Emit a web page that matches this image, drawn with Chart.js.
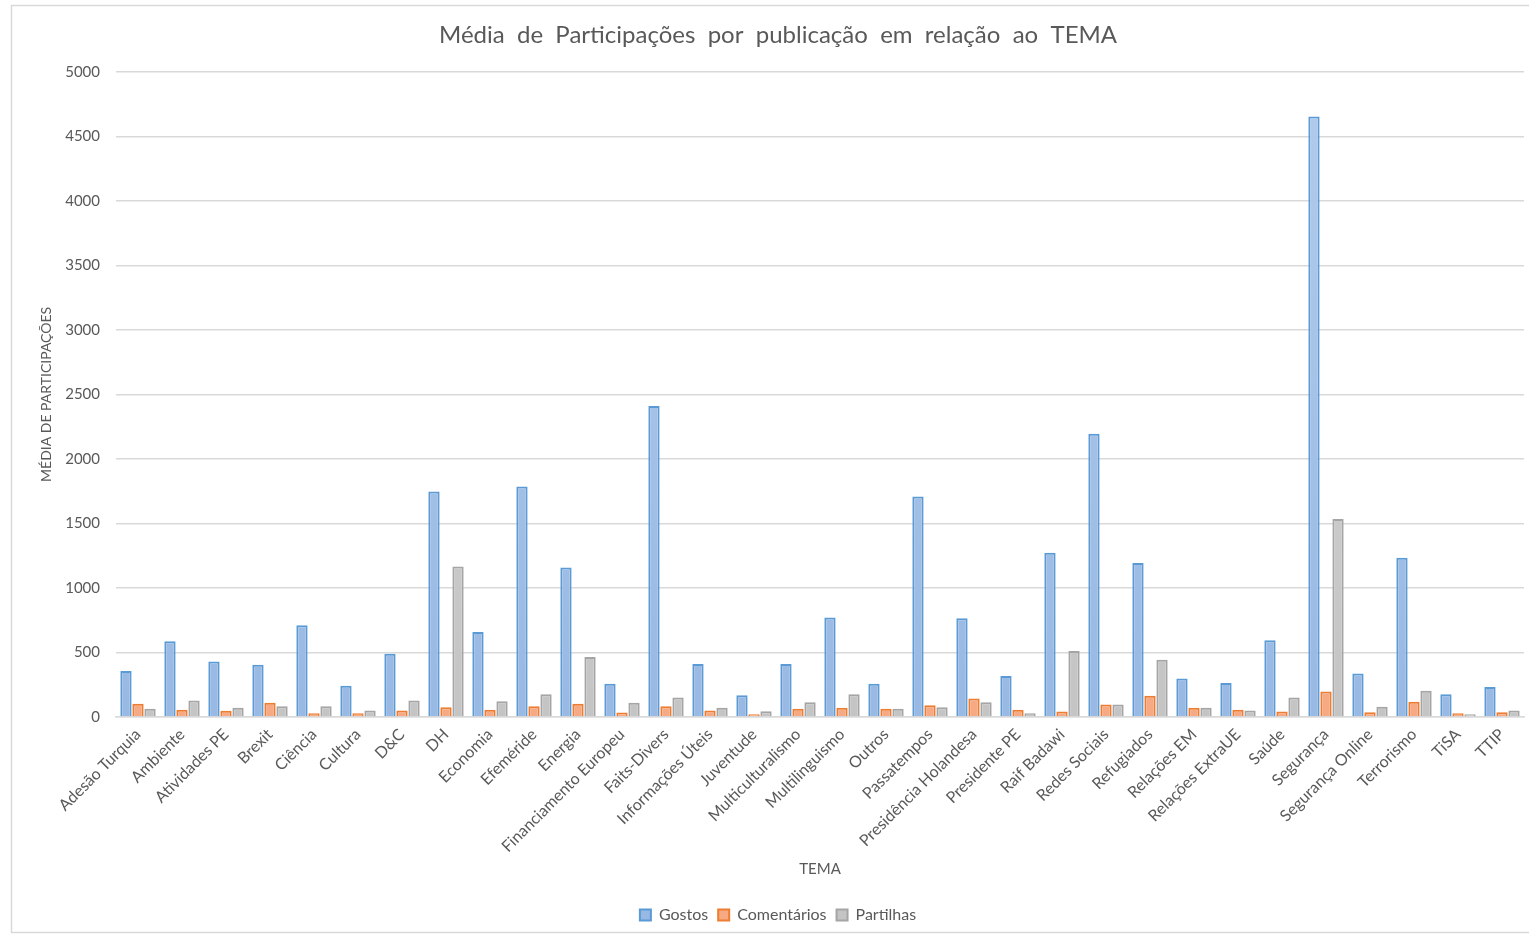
<!DOCTYPE html>
<html lang="pt">
<head>
<meta charset="utf-8">
<title>Média de Participações por publicação em relação ao TEMA</title>
<script src="https://cdn.jsdelivr.net/npm/chart.js@4/dist/chart.umd.min.js"></script>
<style>
  html, body { margin: 0; padding: 0; background: #ffffff; }
  #wrap { position: relative; width: 1529px; height: 934px; }
</style>
</head>
<body>
<div id="wrap"><canvas id="chart" width="1529" height="934"></canvas></div>
<script>
// Temas (eixo X)
const temas = [
  'Adesão Turquia', 'Ambiente', 'Atividades PE', 'Brexit', 'Ciência', 'Cultura', 'D&C', 'DH',
  'Economia', 'Efeméride', 'Energia', 'Financiamento Europeu', 'Faits-Divers', 'Informações Úteis',
  'Juventude', 'Multiculturalismo', 'Multilinguismo', 'Outros', 'Passatempos', 'Presidência Holandesa',
  'Presidente PE', 'Raif Badawi', 'Redes Sociais', 'Refugiados', 'Relações EM', 'Relações ExtraUE',
  'Saúde', 'Segurança', 'Segurança Online', 'Terrorismo', 'TiSA', 'TTIP'
];

// Média por publicação, por tema
const gostos = [356, 587, 431, 405, 711, 242, 491, 1747, 659, 1786, 1159, 258, 2410, 410, 169, 410,
                771, 258, 1708, 765, 317, 1273, 2195, 1193, 299, 263, 594, 4653, 338, 1234, 177, 232];
const comentarios = [102, 56, 48, 110, 30, 30, 50, 76, 56, 84, 102, 35, 84, 50, 22, 64,
                     71, 64, 92, 144, 56, 43, 97, 165, 71, 56, 43, 198, 37, 118, 30, 37];
const partilhas = [64, 128, 71, 84, 84, 50, 128, 1167, 123, 177, 465, 110, 151, 71, 45, 115,
                   177, 64, 76, 115, 30, 511, 97, 444, 71, 50, 151, 1534, 79, 204, 22, 50];

// Eixo Y
const yMin = 0;
const yMax = 5000;
const yStep = 500;

const textColor = '#595959';
const gridColor = '#d9d9d9';

Chart.defaults.font.family = 'Lato, "Open Sans", sans-serif';
Chart.defaults.color = textColor;

// Preenchimento em degradê vertical para as barras
function gradientFill(top, bottom) {
  return (ctx) => {
    const area = ctx.chart.chartArea;
    if (!area) return top;
    const g = ctx.chart.ctx.createLinearGradient(0, area.top, 0, area.bottom);
    g.addColorStop(0, top);
    g.addColorStop(1, bottom);
    return g;
  };
}

// Fundo branco e moldura cinzenta do gráfico
const frame = {
  id: 'frame',
  beforeDraw(chart) {
    const c = chart.ctx;
    c.save();
    c.fillStyle = '#ffffff';
    c.fillRect(0, 0, chart.width, chart.height);
    c.strokeStyle = '#d9d9d9';
    c.lineWidth = 1.5;
    c.strokeRect(11.5, 5.5, chart.width + 10, chart.height - 7);
    c.restore();
  }
};

new Chart(document.getElementById('chart'), {
  type: 'bar',
  data: {
    labels: temas,
    datasets: [
      {
        label: 'Gostos',
        data: gostos,
        backgroundColor: gradientFill('#b1cbec', '#98b9e4'),
        borderColor: '#5b9bd5',
        borderWidth: 2
      },
      {
        label: 'Comentários',
        data: comentarios,
        backgroundColor: gradientFill('#f9bb9c', '#f6a982'),
        borderColor: '#ed7d31',
        borderWidth: 2
      },
      {
        label: 'Partilhas',
        data: partilhas,
        backgroundColor: gradientFill('#d6d6d6', '#c4c4c4'),
        borderColor: '#a5a5a5',
        borderWidth: 2
      }
    ]
  },
  options: {
    responsive: false,
    animation: false,
    maintainAspectRatio: false,
    datasets: {
      bar: { categoryPercentage: 0.82, barPercentage: 0.94, borderSkipped: 'bottom' }
    },
    layout: { padding: { left: 32, right: 5, top: 0, bottom: 1 } },
    plugins: {
      title: {
        display: true,
        text: 'Média  de  Participações  por  publicação  em  relação  ao  TEMA',
        color: textColor,
        font: { size: 24, weight: 'normal' },
        padding: { top: 21, bottom: 22 }
      },
      legend: {
        display: true,
        position: 'bottom',
        labels: {
          boxWidth: 11,
          boxHeight: 11,
          padding: 10,
          color: textColor,
          font: { size: 16 }
        }
      },
      tooltip: { enabled: false }
    },
    scales: {
      x: {
        grid: { display: false, drawTicks: false },
        border: { display: true, color: gridColor, width: 1.5 },
        ticks: {
          autoSkip: false,
          maxRotation: 45,
          minRotation: 45,
          padding: 8,
          color: textColor,
          font: { size: 16 }
        },
        title: {
          display: true,
          text: 'TEMA',
          color: textColor,
          font: { size: 15 },
          padding: { top: 0, bottom: 19 }
        },
        afterFit(scale) { scale.height = 180; }
      },
      y: {
        min: yMin,
        max: yMax,
        grid: { color: gridColor, lineWidth: 1.5, drawTicks: false },
        border: { display: false },
        ticks: {
          stepSize: yStep,
          padding: 16,
          color: textColor,
          font: { size: 15 },
          callback: (v) => String(v)
        },
        title: {
          display: true,
          text: 'MÉDIA DE PARTICIPAÇÕES',
          color: textColor,
          font: { size: 14 },
          padding: { top: 6, bottom: 0 }
        },
        afterFit(scale) { scale.width = 84; }
      }
    }
  },
  plugins: [frame]
});
</script>
</body>
</html>
